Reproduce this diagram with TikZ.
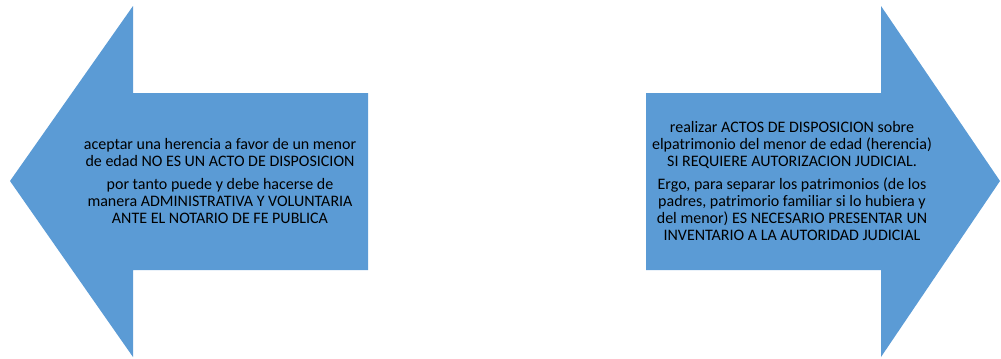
\documentclass[tikz,border=0pt]{standalone}
\usepackage{fontspec}
\setmainfont{Carlito}
\definecolor{arrowblue}{HTML}{5B9BD5}
\begin{document}
\begin{tikzpicture}[x=0.75pt,y=-0.75pt,
  bigarrow/.style={fill=arrowblue,draw=none},
  arrowtext/.style={align=center,inner sep=0pt,font=\fontsize{12}{12.75}\selectfont,text=black}]
\useasboundingbox (0,0) rectangle (1001,358);
% left arrow
\path[bigarrow] (10,181) -- (133,6) -- (133,93) -- (368,93) -- (368,270) -- (133,270) -- (133,357) -- cycle;
% right arrow
\path[bigarrow] (1000,181) -- (881,6) -- (881,93) -- (646,93) -- (646,270) -- (881,270) -- (881,357) -- cycle;
\node[arrowtext] (lt) at (220,181) {aceptar una herencia a favor de un menor\\de edad NO ES UN ACTO DE DISPOSICION\\[5pt]por tanto puede y debe hacerse de\\manera ADMINISTRATIVA Y VOLUNTARIA\\ANTE EL NOTARIO DE FE PUBLICA};
\node[arrowtext] (rt) at (792,181) {realizar ACTOS DE DISPOSICION sobre\\elpatrimonio del menor de edad (herencia)\\SI REQUIERE AUTORIZACION JUDICIAL.\\[5pt]Ergo, para separar los patrimonios (de los\\padres, patrimorio familiar si lo hubiera y\\del menor) ES NECESARIO PRESENTAR UN\\INVENTARIO A LA AUTORIDAD JUDICIAL};
\end{tikzpicture}
\end{document}
